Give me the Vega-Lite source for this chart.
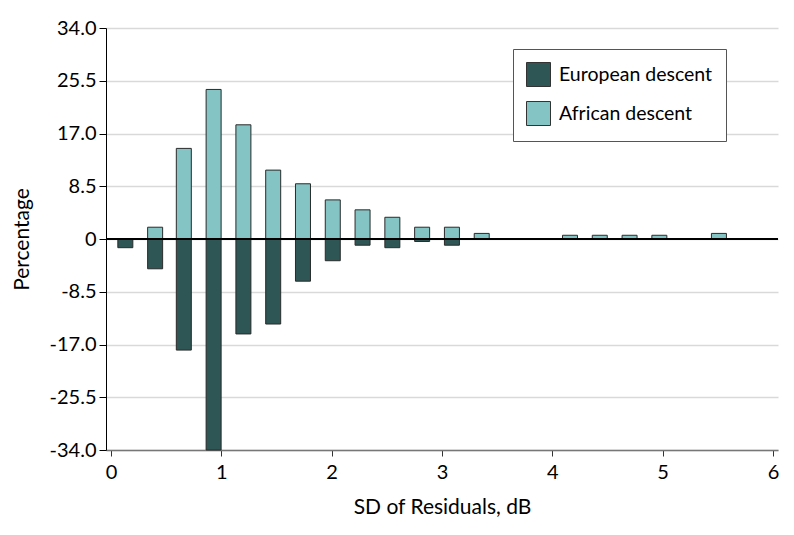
{
  "$schema": "https://vega.github.io/schema/vega-lite/v6.json",
  "width": 672,
  "height": 422,
  "autosize": {"type": "none"},
  "padding": {"left": 106, "top": 28, "right": 16, "bottom": 85},
  "background": "white",
  "config": {"view": {"stroke": null}, "font": "Lato"},
  "data": {
    "values": [
      {"sd": 0.13, "group": "European descent", "pct": -1.4},
      {"sd": 0.4, "group": "European descent", "pct": -4.8},
      {"sd": 0.66, "group": "European descent", "pct": -17.9},
      {"sd": 0.93, "group": "European descent", "pct": -34.0},
      {"sd": 1.2, "group": "European descent", "pct": -15.3},
      {"sd": 1.47, "group": "European descent", "pct": -13.7},
      {"sd": 1.74, "group": "European descent", "pct": -6.8},
      {"sd": 2.01, "group": "European descent", "pct": -3.5},
      {"sd": 2.28, "group": "European descent", "pct": -1.0},
      {"sd": 2.55, "group": "European descent", "pct": -1.4},
      {"sd": 2.82, "group": "European descent", "pct": -0.4},
      {"sd": 3.09, "group": "European descent", "pct": -1.0},
      {"sd": 0.4, "group": "African descent", "pct": 1.9},
      {"sd": 0.66, "group": "African descent", "pct": 14.6},
      {"sd": 0.93, "group": "African descent", "pct": 24.1},
      {"sd": 1.2, "group": "African descent", "pct": 18.4},
      {"sd": 1.47, "group": "African descent", "pct": 11.1},
      {"sd": 1.74, "group": "African descent", "pct": 8.9},
      {"sd": 2.01, "group": "African descent", "pct": 6.3},
      {"sd": 2.28, "group": "African descent", "pct": 4.7},
      {"sd": 2.55, "group": "African descent", "pct": 3.5},
      {"sd": 2.82, "group": "African descent", "pct": 1.9},
      {"sd": 3.09, "group": "African descent", "pct": 1.9},
      {"sd": 3.36, "group": "African descent", "pct": 0.9},
      {"sd": 4.16, "group": "African descent", "pct": 0.6},
      {"sd": 4.43, "group": "African descent", "pct": 0.6},
      {"sd": 4.7, "group": "African descent", "pct": 0.6},
      {"sd": 4.97, "group": "African descent", "pct": 0.6},
      {"sd": 5.51, "group": "African descent", "pct": 0.9}
    ]
  },
  "layer": [
    {
      "mark": {"type": "bar", "size": 15, "stroke": "#2a2a2a", "strokeWidth": 1},
      "encoding": {
        "x": {
          "field": "sd",
          "type": "quantitative",
          "scale": {"domain": [0, 6], "nice": false, "zero": false},
          "axis": {
            "values": [0, 1, 2, 3, 4, 5, 6],
            "format": "d",
            "grid": false,
            "domainColor": "#777777",
            "domainWidth": 1.5,
            "tickColor": "#333333",
            "tickSize": 6,
            "labelFontSize": 20,
            "labelColor": "#000000",
            "labelPadding": 6,
            "labelFont": "Lato",
            "title": "SD of Residuals, dB",
            "titleFont": "Lato",
            "titleFontSize": 21,
            "titleFontWeight": "normal",
            "titleColor": "#000000",
            "titleX": 336,
            "titleY": 63,
            "titleBaseline": "alphabetic",
            "titleAlign": "center"
          }
        },
        "y": {
          "field": "pct",
          "type": "quantitative",
          "stack": null,
          "scale": {"domain": [-34, 34], "nice": false},
          "axis": {
            "values": [-34, -25.5, -17, -8.5, 0, 8.5, 17, 25.5, 34],
            "labelExpr": "datum.value == 0 ? '0' : replace(format(datum.value, '.1f'), '\u2212', '-')",
            "grid": true,
            "gridColor": "#d9d9d9",
            "gridWidth": 1.5,
            "domainColor": "#000000",
            "tickColor": "#000000",
            "tickSize": 7,
            "labelFontSize": 20,
            "labelColor": "#000000",
            "labelPadding": 3,
            "labelFont": "Lato",
            "title": "Percentage",
            "titleFont": "Lato",
            "titleFontSize": 21,
            "titleFontWeight": "normal",
            "titleColor": "#000000",
            "titleX": -78,
            "titleY": 211,
            "titleAngle": -90,
            "titleBaseline": "alphabetic",
            "titleAlign": "center"
          }
        },
        "color": {
          "field": "group",
          "type": "nominal",
          "scale": {
            "domain": ["European descent", "African descent"],
            "range": ["#2e5654", "#85c4c4"]
          },
          "legend": {
            "orient": "none",
            "legendX": 407,
            "legendY": 21,
            "title": null,
            "strokeColor": "#555555",
            "fillColor": "white",
            "padding": 13,
            "symbolType": "square",
            "symbolSize": 576,
            "symbolStrokeColor": "#333333",
            "symbolStrokeWidth": 1,
            "symbolOpacity": 1,
            "labelFont": "Lato",
            "labelFontSize": 19.5,
            "labelColor": "#000000",
            "labelOffset": 8,
            "rowPadding": 10
          }
        }
      }
    },
    {
      "mark": {"type": "rule", "color": "#000000", "strokeWidth": 1.2},
      "encoding": {"y": {"datum": 0}}
    }
  ]
}
